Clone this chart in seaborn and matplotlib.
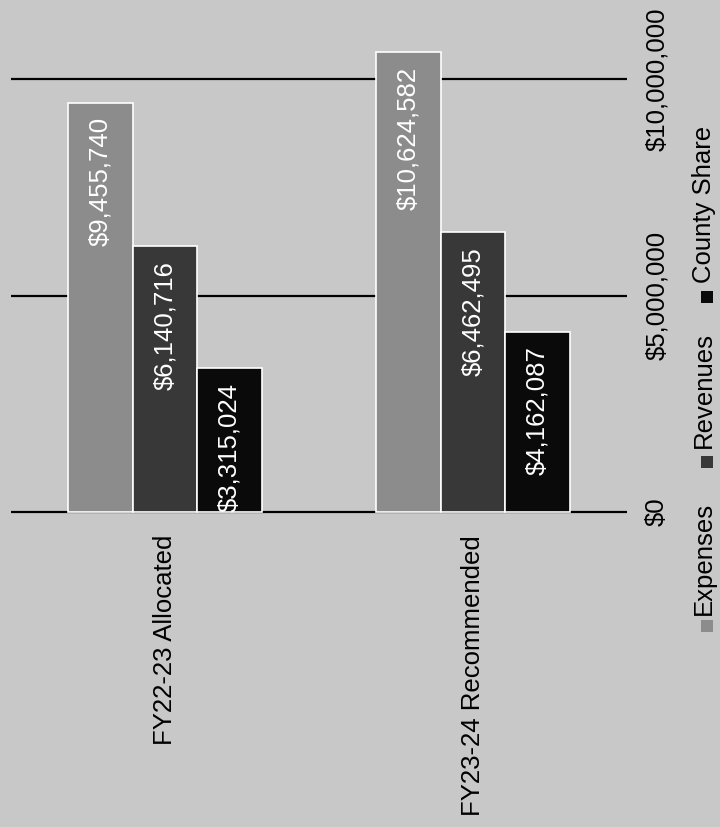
import matplotlib
matplotlib.use("Agg")
import matplotlib.pyplot as plt
import seaborn as sns
import pandas as pd
from matplotlib.patches import Rectangle

categories = ["FY22-23 Allocated", "FY23-24 Recommended"]
series = ["Expenses", "Revenues", "County Share"]
expenses = [9455740, 10624582]
revenues = [6140716, 6462495]
county_share = [3315024, 4162087]
tick_values = [0, 5000000, 10000000]
tick_labels = ["$0", "$5,000,000", "$10,000,000"]

colors = ["#8c8c8c", "#383838", "#0a0a0a"]
bg = "#c8c8c8"

df = pd.DataFrame({
    "category": categories * 3,
    "series": [s for s in series for _ in categories],
    "value": expenses + revenues + county_share,
})

sns.set_theme(style="white")
plt.rcParams["font.family"] = ["Liberation Sans", "DejaVu Sans"]
plt.rcParams["text.color"] = "black"
plt.rcParams["xtick.color"] = "black"
plt.rcParams["ytick.color"] = "black"
plt.rcParams["xtick.labelcolor"] = "black"
plt.rcParams["ytick.labelcolor"] = "black"

W, H = 720, 827
FS = 18.5
fig = plt.figure(figsize=(W / 100, H / 100), dpi=100, facecolor=bg)
ax = fig.add_axes([11 / W, (H - 520) / H, 616 / W, 520 / H])
ax.set_facecolor(bg)

sns.barplot(data=df, x="category", y="value", hue="series", order=categories,
            hue_order=series, palette=colors, width=0.627, saturation=1,
            edgecolor="white", linewidth=1.2, legend=False, ax=ax)

ppu = 216.5 / 5e6
ax.set_ylim(-8 / ppu, 512 / ppu)

ax.set_yticks(tick_values)
ax.set_yticklabels(tick_labels, rotation=90, va="center", fontsize=FS, color="black")
ax.yaxis.tick_right()
ax.grid(axis="y", color="black", lw=1.6)
ax.grid(axis="x", visible=False)
ax.set_axisbelow(True)
ax.tick_params(axis="y", length=0, pad=13)

ax.set_xticks(range(len(categories)))
ax.set_xticklabels(categories, rotation=90, ha="center", va="top", fontsize=FS, color="black")
ax.tick_params(axis="x", length=0, pad=10.8)
for s in ax.spines.values():
    s.set_visible(False)
ax.set_xlabel("")
ax.set_ylabel("")

for container, vals in zip(ax.containers, [expenses, revenues, county_share]):
    for bar, v in zip(container, vals):
        ax.annotate(f"${v:,.0f}",
                    xy=(bar.get_x() + bar.get_width() / 2, bar.get_height()),
                    xytext=(0, -10.5), textcoords="offset points",
                    rotation=90, ha="center", va="top", color="white", fontsize=FS)

# legend (rotated, as in the reference)
text_start = [615, 448, 283]
marker_center = [626, 462, 297]
for name, col, ts, mc in zip(series, colors, text_start, marker_center):
    fig.text(704 / W, (H - ts) / H, name, rotation=90, ha="center", va="bottom",
             fontsize=FS, color="black")
    fig.add_artist(Rectangle((701 / W, (H - (mc + 6)) / H), 12 / W, 12 / H,
                             transform=fig.transFigure, facecolor=col,
                             edgecolor="none"))

fig.savefig("out.png", dpi=100, facecolor=bg)
